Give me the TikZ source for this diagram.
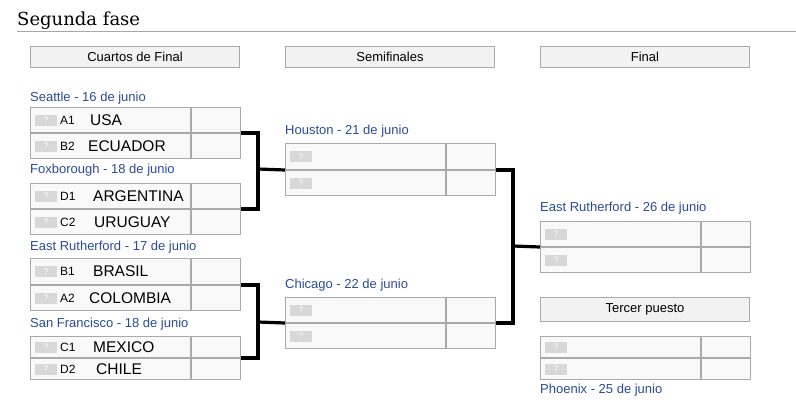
\documentclass[tikz,border=0pt]{standalone}
\usepackage{fontspec}
\setmainfont{Liberation Sans}
\newfontfamily\titlefont{DejaVu Serif}
\usetikzlibrary{positioning}
\definecolor{cellbg}{HTML}{F9F9F9}
\definecolor{cellline}{HTML}{AAAAAA}
\definecolor{headbg}{HTML}{F2F2F2}
\definecolor{tagbg}{HTML}{D8D8D8}
\definecolor{venue}{HTML}{2A4B9B}
\definecolor{rulegray}{HTML}{A2A9B1}
\tikzset{
  team/.style={draw=cellline,fill=cellbg,line width=1pt,minimum width=160pt,inner sep=0pt,anchor=north west},
  score/.style={draw=cellline,fill=cellbg,line width=1pt,minimum width=49pt,inner sep=0pt},
  tag/.style={fill=tagbg,minimum width=22pt,minimum height=11pt,inner sep=0pt,text=white,font=\fontsize{8}{8}\selectfont},
  seed/.style={inner sep=0pt,font=\fontsize{12}{12}\selectfont},
  side/.style={inner sep=0pt,font=\fontsize{15.5}{16}\selectfont},
  venuelabel/.style={anchor=west,inner sep=0pt,text=venue,font=\fontsize{13}{13}\selectfont},
  roundhead/.style={draw=cellline,fill=headbg,line width=1pt,minimum width=209pt,minimum height=21pt,inner sep=0pt,anchor=north west,font=\fontsize{13}{13}\selectfont},
  bracket/.style={line width=3.2pt},
}
\begin{document}
\begin{tikzpicture}[x=1pt,y=-1pt]
\useasboundingbox[fill=white] (0,0) rectangle (796,416);
% title
\node[anchor=base west,inner sep=0pt,font=\titlefont\fontsize{18}{18}\selectfont] (title) at (17,25) {Segunda fase};
\coordinate (rulestart) at (17,31);
\coordinate (ruleend) at (796,31);
\draw[rulegray,line width=1pt] (rulestart) -- (ruleend);
% round headers
\node[roundhead] (hqf) at (30,46) {Cuartos de Final};
\node[roundhead] (hsf) at (285,46) {Semifinales};
\node[roundhead] (hf) at (540,46) {Final};
\node[roundhead,minimum height=24pt] (htp) at (540,297) {Tercer puesto};
% quarter-finals
\node[venuelabel] (v1) at (30,98) {Seattle - 16 de junio};
\node[team,minimum height=25pt] (q1a) at (30,107) {};
\node[score,minimum height=25pt,right=0pt of q1a] (q1as) {};
\node[team,minimum height=25pt] (q1b) at (q1a.south west) {};
\node[score,minimum height=25pt,right=0pt of q1b] (q1bs) {};
\node[tag,right=5pt of q1a.west] (t1a) {?};
\node[seed,right=30pt of q1a.west] (d1a) {A1};
\node[side,right=60pt of q1a.west] (n1a) {USA};
\node[tag,right=5pt of q1b.west] (t1b) {?};
\node[seed,right=30pt of q1b.west] (d1b) {B2};
\node[side,right=58pt of q1b.west] (n1b) {ECUADOR};

\node[venuelabel] (v2) at (30,170) {Foxborough - 18 de junio};
\node[team,minimum height=25pt] (q2a) at (30,183) {};
\node[score,minimum height=25pt,right=0pt of q2a] (q2as) {};
\node[team,minimum height=25pt] (q2b) at (q2a.south west) {};
\node[score,minimum height=25pt,right=0pt of q2b] (q2bs) {};
\node[tag,right=5pt of q2a.west] (t2a) {?};
\node[seed,right=30pt of q2a.west] (d2a) {D1};
\node[side,right=63pt of q2a.west] (n2a) {ARGENTINA};
\node[tag,right=5pt of q2b.west] (t2b) {?};
\node[seed,right=30pt of q2b.west] (d2b) {C2};
\node[side,right=64pt of q2b.west] (n2b) {URUGUAY};

\node[venuelabel] (v3) at (30,247) {East Rutherford - 17 de junio};
\node[team,minimum height=26pt] (q3a) at (30,258) {};
\node[score,minimum height=26pt,right=0pt of q3a] (q3as) {};
\node[team,minimum height=25pt] (q3b) at (q3a.south west) {};
\node[score,minimum height=25pt,right=0pt of q3b] (q3bs) {};
\node[tag,right=5pt of q3a.west] (t3a) {?};
\node[seed,right=30pt of q3a.west] (d3a) {B1};
\node[side,right=63pt of q3a.west] (n3a) {BRASIL};
\node[tag,right=5pt of q3b.west] (t3b) {?};
\node[seed,right=30pt of q3b.west] (d3b) {A2};
\node[side,right=59pt of q3b.west] (n3b) {COLOMBIA};

\node[venuelabel] (v4) at (30,324) {San Francisco - 18 de junio};
\node[team,minimum height=21pt] (q4a) at (30,336) {};
\node[score,minimum height=21pt,right=0pt of q4a] (q4as) {};
\node[team,minimum height=21pt] (q4b) at (q4a.south west) {};
\node[score,minimum height=21pt,right=0pt of q4b] (q4bs) {};
\node[tag,right=5pt of q4a.west] (t4a) {?};
\node[seed,right=30pt of q4a.west] (d4a) {C1};
\node[side,right=63pt of q4a.west] (n4a) {MEXICO};
\node[tag,right=5pt of q4b.west] (t4b) {?};
\node[seed,right=30pt of q4b.west] (d4b) {D2};
\node[side,right=66pt of q4b.west] (n4b) {CHILE};
% semifinals
\node[venuelabel] (v5) at (285,131) {Houston - 21 de junio};
\node[team,minimum height=26pt] (s1a) at (285,143) {};
\node[score,minimum height=26pt,right=0pt of s1a] (s1as) {};
\node[team,minimum height=25pt] (s1b) at (s1a.south west) {};
\node[score,minimum height=25pt,right=0pt of s1b] (s1bs) {};
\node[tag,right=5pt of s1a.west] (t5a) {?};
\node[tag,right=5pt of s1b.west] (t5b) {?};

\node[venuelabel] (v6) at (285,285) {Chicago - 22 de junio};
\node[team,minimum height=25pt] (s2a) at (285,297) {};
\node[score,minimum height=25pt,right=0pt of s2a] (s2as) {};
\node[team,minimum height=25pt] (s2b) at (s2a.south west) {};
\node[score,minimum height=25pt,right=0pt of s2b] (s2bs) {};
\node[tag,right=5pt of s2a.west] (t6a) {?};
\node[tag,right=5pt of s2b.west] (t6b) {?};
% final
\node[venuelabel] (v7) at (540,208) {East Rutherford - 26 de junio};
\node[team,minimum height=25pt] (f1a) at (540,221) {};
\node[score,minimum height=25pt,right=0pt of f1a] (f1as) {};
\node[team,minimum height=25pt] (f1b) at (f1a.south west) {};
\node[score,minimum height=25pt,right=0pt of f1b] (f1bs) {};
\node[tag,right=5pt of f1a.west] (t7a) {?};
\node[tag,right=5pt of f1b.west] (t7b) {?};
% third place
\node[team,minimum height=21pt] (p1a) at (540,336) {};
\node[score,minimum height=21pt,right=0pt of p1a] (p1as) {};
\node[team,minimum height=21pt] (p1b) at (p1a.south west) {};
\node[score,minimum height=21pt,right=0pt of p1b] (p1bs) {};
\node[tag,right=5pt of p1a.west] (t8a) {?};
\node[tag,right=5pt of p1b.west] (t8b) {?};
\node[venuelabel] (v8) at (540,390) {Phoenix - 25 de junio};
% brackets
\coordinate (j1) at (258,169);
\coordinate (j2) at (258,322);
\coordinate (j3) at (513,246);
\draw[bracket] (q1as.south east) -| (j1) |- (q2as.south east);
\draw[bracket] (j1) -- (s1a.south west);
\draw[bracket] (q3as.south east) -| (j2) |- (q4as.south east);
\draw[bracket] (j2) -- (s2a.south west);
\draw[bracket] (s1as.south east) -| (j3) |- (s2as.south east);
\draw[bracket] (j3) -- (f1a.south west);
\end{tikzpicture}
\end{document}
